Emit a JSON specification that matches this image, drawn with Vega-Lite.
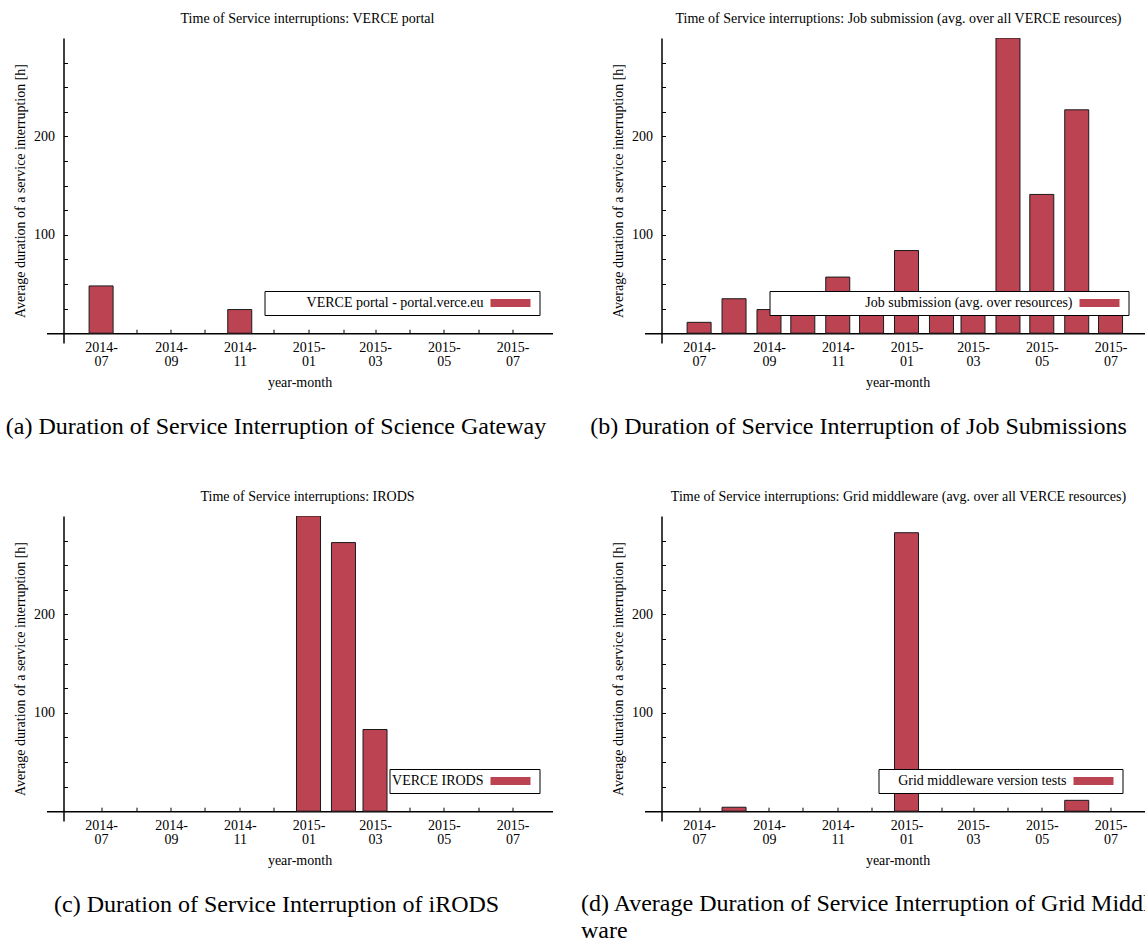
{
  "$schema": "https://vega.github.io/schema/vega-lite/v6.json",
  "padding": {"left": 4.5, "top": 12, "right": 0, "bottom": 0},
  "background": "white",
  "datasets": {
    "portal": [
      {"month": "2014-07-01", "hours": 48},
      {"month": "2014-11-01", "hours": 24}
    ],
    "jobs": [
      {"month": "2014-07-01", "hours": 11},
      {"month": "2014-08-01", "hours": 35},
      {"month": "2014-09-01", "hours": 24},
      {"month": "2014-10-01", "hours": 30},
      {"month": "2014-11-01", "hours": 57},
      {"month": "2014-12-01", "hours": 27},
      {"month": "2015-01-01", "hours": 84},
      {"month": "2015-02-01", "hours": 33},
      {"month": "2015-03-01", "hours": 25},
      {"month": "2015-04-01", "hours": 300},
      {"month": "2015-05-01", "hours": 141},
      {"month": "2015-06-01", "hours": 227},
      {"month": "2015-07-01", "hours": 22}
    ],
    "irods": [
      {"month": "2015-01-01", "hours": 300},
      {"month": "2015-02-01", "hours": 273},
      {"month": "2015-03-01", "hours": 83}
    ],
    "grid": [
      {"month": "2014-08-01", "hours": 4},
      {"month": "2015-01-01", "hours": 283},
      {"month": "2015-06-01", "hours": 11}
    ]
  },
  "config": {
    "view": {"stroke": null},
    "font": "Liberation Serif",
    "title": {"font": "Liberation Serif", "fontSize": 14, "fontWeight": "normal", "color": "black", "offset": 12},
    "axis": {
      "labelFont": "Liberation Serif", "labelFontSize": 14, "labelColor": "black",
      "titleFont": "Liberation Serif", "titleFontSize": 14, "titleFontWeight": "normal", "titleColor": "black",
      "domainColor": "black", "domainWidth": 1.5, "tickColor": "black", "tickWidth": 1, "grid": false
    },
    "legend": {"labelFont": "Liberation Serif", "labelFontSize": 14, "labelColor": "black"}
  },
  "resolve": {"scale": {"x": "independent", "y": "independent", "color": "independent"}, "legend": {"color": "independent"}},
  "columns": 2,
  "spacing": {"row": 52, "column": 28},
  "concat": [
    {
      "title": {"text": "Time of Service interruptions: VERCE portal", "dx": 8},
      "width": 506, "height": 305,
      "data": {"name": "portal"},
      "resolve": {"axis": {"x": "independent"}},
      "layer": [
        {
          "mark": {"type": "bar", "width": 24, "stroke": "#1a1a1a", "strokeWidth": 1, "clip": true},
          "encoding": {
            "x": {"field": "month", "type": "temporal", "title": "year-month",
              "scale": {"type": "utc", "domain": [{"year": 2014, "month": 5, "date": 18, "utc": true}, {"year": 2015, "month": 8, "date": 1, "utc": true}]},
              "axis": {"orient": "bottom", "values": [{"year": 2014, "month": 7, "date": 1, "utc": true}, {"year": 2014, "month": 8, "date": 1, "utc": true}, {"year": 2014, "month": 9, "date": 1, "utc": true}, {"year": 2014, "month": 10, "date": 1, "utc": true}, {"year": 2014, "month": 11, "date": 1, "utc": true}, {"year": 2014, "month": 12, "date": 1, "utc": true}, {"year": 2015, "month": 1, "date": 1, "utc": true}, {"year": 2015, "month": 2, "date": 1, "utc": true}, {"year": 2015, "month": 3, "date": 1, "utc": true}, {"year": 2015, "month": 4, "date": 1, "utc": true}, {"year": 2015, "month": 5, "date": 1, "utc": true}, {"year": 2015, "month": 6, "date": 1, "utc": true}, {"year": 2015, "month": 7, "date": 1, "utc": true}],
                "offset": -9.8, "tickSize": -4, "labelPadding": 11, "labelLineHeight": 14, "labelOverlap": false, "labelFlush": false, "titlePadding": 7,
                "labelExpr": "utcmonth(datum.value) % 2 == 0 ? [utcFormat(datum.value, '%Y-'), utcFormat(datum.value, '%m')] : ''"}},
            "y": {"field": "hours", "type": "quantitative", "title": "Average duration of a service interruption [h]",
              "scale": {"domain": [-10, 300], "nice": false, "zero": false},
              "axis": {"values": [25, 50, 75, 100, 125, 150, 175, 200, 225, 250, 275], "offset": -17, "tickSize": -4, "labelPadding": 13, "titlePadding": 6.5,
                "labelExpr": "datum.value % 100 == 0 ? datum.label : ''"}},
            "y2": {"datum": 0},
            "color": {"datum": "VERCE portal - portal.verce.eu", "type": "nominal", "scale": {"range": ["#bc4452"]},
              "legend": {"orient": "none", "legendX": 218, "legendY": 253, "title": " ", "titleOrient": "left", "titleFontSize": 1, "titlePadding": 234,
                "strokeColor": "black", "fillColor": "white", "padding": 5,
                "symbolType": "M-4,-0.8H4V0.8H-4ZM4.8,0", "symbolSize": 100, "symbolStrokeWidth": 0, "labelAlign": "right", "labelOffset": -34, "labelLimit": 400}}
          }
        },
        {
          "mark": {"type": "rule", "opacity": 0},
          "encoding": {
            "x": {"field": "month", "type": "temporal",
              "axis": {"orient": "bottom", "title": "(a) Duration of Service Interruption of Science Gateway", "domain": false, "ticks": false, "labels": false,
                "titleFontSize": 24, "titleX": 229, "titleY": 90, "titleAlign": "center", "titleBaseline": "alphabetic", "titlePadding": 0}}
          }
        }
      ]
    },
    {
      "title": {"text": "Time of Service interruptions: Job submission (avg. over all VERCE resources)", "dx": 1},
      "width": 506, "height": 305,
      "data": {"name": "jobs"},
      "resolve": {"axis": {"x": "independent"}},
      "layer": [
        {
          "mark": {"type": "bar", "width": 24, "stroke": "#1a1a1a", "strokeWidth": 1, "clip": true},
          "encoding": {
            "x": {"field": "month", "type": "temporal", "title": "year-month",
              "scale": {"type": "utc", "domain": [{"year": 2014, "month": 5, "date": 18, "utc": true}, {"year": 2015, "month": 8, "date": 1, "utc": true}]},
              "axis": {"orient": "bottom", "values": [{"year": 2014, "month": 7, "date": 1, "utc": true}, {"year": 2014, "month": 8, "date": 1, "utc": true}, {"year": 2014, "month": 9, "date": 1, "utc": true}, {"year": 2014, "month": 10, "date": 1, "utc": true}, {"year": 2014, "month": 11, "date": 1, "utc": true}, {"year": 2014, "month": 12, "date": 1, "utc": true}, {"year": 2015, "month": 1, "date": 1, "utc": true}, {"year": 2015, "month": 2, "date": 1, "utc": true}, {"year": 2015, "month": 3, "date": 1, "utc": true}, {"year": 2015, "month": 4, "date": 1, "utc": true}, {"year": 2015, "month": 5, "date": 1, "utc": true}, {"year": 2015, "month": 6, "date": 1, "utc": true}, {"year": 2015, "month": 7, "date": 1, "utc": true}],
                "offset": -9.8, "tickSize": -4, "labelPadding": 11, "labelLineHeight": 14, "labelOverlap": false, "labelFlush": false, "titlePadding": 7,
                "labelExpr": "utcmonth(datum.value) % 2 == 0 ? [utcFormat(datum.value, '%Y-'), utcFormat(datum.value, '%m')] : ''"}},
            "y": {"field": "hours", "type": "quantitative", "title": "Average duration of a service interruption [h]",
              "scale": {"domain": [-10, 300], "nice": false, "zero": false},
              "axis": {"values": [25, 50, 75, 100, 125, 150, 175, 200, 225, 250, 275], "offset": -17, "tickSize": -4, "labelPadding": 13, "titlePadding": 6.5,
                "labelExpr": "datum.value % 100 == 0 ? datum.label : ''"}},
            "y2": {"datum": 0},
            "color": {"datum": "Job submission (avg. over resources)", "type": "nominal", "scale": {"range": ["#bc4452"]},
              "legend": {"orient": "none", "legendX": 125, "legendY": 253, "title": " ", "titleOrient": "left", "titleFontSize": 1, "titlePadding": 318,
                "strokeColor": "black", "fillColor": "white", "padding": 5,
                "symbolType": "M-4,-0.8H4V0.8H-4ZM4.8,0", "symbolSize": 100, "symbolStrokeWidth": 0, "labelAlign": "right", "labelOffset": -34, "labelLimit": 400}}
          }
        },
        {
          "mark": {"type": "rule", "opacity": 0},
          "encoding": {
            "x": {"field": "month", "type": "temporal",
              "axis": {"orient": "bottom", "title": "(b) Duration of Service Interruption of Job Submissions", "domain": false, "ticks": false, "labels": false,
                "titleFontSize": 24, "titleX": 213.5, "titleY": 90, "titleAlign": "center", "titleBaseline": "alphabetic", "titlePadding": 0}}
          }
        }
      ]
    },
    {
      "title": {"text": "Time of Service interruptions: IRODS", "dx": 8},
      "width": 506, "height": 305,
      "data": {"name": "irods"},
      "resolve": {"axis": {"x": "independent"}},
      "layer": [
        {
          "mark": {"type": "bar", "width": 24, "stroke": "#1a1a1a", "strokeWidth": 1, "clip": true},
          "encoding": {
            "x": {"field": "month", "type": "temporal", "title": "year-month",
              "scale": {"type": "utc", "domain": [{"year": 2014, "month": 5, "date": 18, "utc": true}, {"year": 2015, "month": 8, "date": 1, "utc": true}]},
              "axis": {"orient": "bottom", "values": [{"year": 2014, "month": 7, "date": 1, "utc": true}, {"year": 2014, "month": 8, "date": 1, "utc": true}, {"year": 2014, "month": 9, "date": 1, "utc": true}, {"year": 2014, "month": 10, "date": 1, "utc": true}, {"year": 2014, "month": 11, "date": 1, "utc": true}, {"year": 2014, "month": 12, "date": 1, "utc": true}, {"year": 2015, "month": 1, "date": 1, "utc": true}, {"year": 2015, "month": 2, "date": 1, "utc": true}, {"year": 2015, "month": 3, "date": 1, "utc": true}, {"year": 2015, "month": 4, "date": 1, "utc": true}, {"year": 2015, "month": 5, "date": 1, "utc": true}, {"year": 2015, "month": 6, "date": 1, "utc": true}, {"year": 2015, "month": 7, "date": 1, "utc": true}],
                "offset": -9.8, "tickSize": -4, "labelPadding": 11, "labelLineHeight": 14, "labelOverlap": false, "labelFlush": false, "titlePadding": 7,
                "labelExpr": "utcmonth(datum.value) % 2 == 0 ? [utcFormat(datum.value, '%Y-'), utcFormat(datum.value, '%m')] : ''"}},
            "y": {"field": "hours", "type": "quantitative", "title": "Average duration of a service interruption [h]",
              "scale": {"domain": [-10, 300], "nice": false, "zero": false},
              "axis": {"values": [25, 50, 75, 100, 125, 150, 175, 200, 225, 250, 275], "offset": -17, "tickSize": -4, "labelPadding": 13, "titlePadding": 6.5,
                "labelExpr": "datum.value % 100 == 0 ? datum.label : ''"}},
            "y2": {"datum": 0},
            "color": {"datum": "VERCE IRODS", "type": "nominal", "scale": {"range": ["#bc4452"]},
              "legend": {"orient": "none", "legendX": 343, "legendY": 253, "title": " ", "titleOrient": "left", "titleFontSize": 1, "titlePadding": 109,
                "strokeColor": "black", "fillColor": "white", "padding": 5,
                "symbolType": "M-4,-0.8H4V0.8H-4ZM4.8,0", "symbolSize": 100, "symbolStrokeWidth": 0, "labelAlign": "right", "labelOffset": -34, "labelLimit": 400}}
          }
        },
        {
          "mark": {"type": "rule", "opacity": 0},
          "encoding": {
            "x": {"field": "month", "type": "temporal",
              "axis": {"orient": "bottom", "title": "(c) Duration of Service Interruption of iRODS", "domain": false, "ticks": false, "labels": false,
                "titleFontSize": 24, "titleX": 7, "titleY": 90, "titleAlign": "left", "titleBaseline": "alphabetic", "titlePadding": 0}}
          }
        }
      ]
    },
    {
      "title": {"text": "Time of Service interruptions: Grid middleware (avg. over all VERCE resources)", "dx": 1},
      "width": 506, "height": 305,
      "data": {"name": "grid"},
      "resolve": {"axis": {"x": "independent"}},
      "layer": [
        {
          "mark": {"type": "bar", "width": 24, "stroke": "#1a1a1a", "strokeWidth": 1, "clip": true},
          "encoding": {
            "x": {"field": "month", "type": "temporal", "title": "year-month",
              "scale": {"type": "utc", "domain": [{"year": 2014, "month": 5, "date": 18, "utc": true}, {"year": 2015, "month": 8, "date": 1, "utc": true}]},
              "axis": {"orient": "bottom", "values": [{"year": 2014, "month": 7, "date": 1, "utc": true}, {"year": 2014, "month": 8, "date": 1, "utc": true}, {"year": 2014, "month": 9, "date": 1, "utc": true}, {"year": 2014, "month": 10, "date": 1, "utc": true}, {"year": 2014, "month": 11, "date": 1, "utc": true}, {"year": 2014, "month": 12, "date": 1, "utc": true}, {"year": 2015, "month": 1, "date": 1, "utc": true}, {"year": 2015, "month": 2, "date": 1, "utc": true}, {"year": 2015, "month": 3, "date": 1, "utc": true}, {"year": 2015, "month": 4, "date": 1, "utc": true}, {"year": 2015, "month": 5, "date": 1, "utc": true}, {"year": 2015, "month": 6, "date": 1, "utc": true}, {"year": 2015, "month": 7, "date": 1, "utc": true}],
                "offset": -9.8, "tickSize": -4, "labelPadding": 11, "labelLineHeight": 14, "labelOverlap": false, "labelFlush": false, "titlePadding": 7,
                "labelExpr": "utcmonth(datum.value) % 2 == 0 ? [utcFormat(datum.value, '%Y-'), utcFormat(datum.value, '%m')] : ''"}},
            "y": {"field": "hours", "type": "quantitative", "title": "Average duration of a service interruption [h]",
              "scale": {"domain": [-10, 300], "nice": false, "zero": false},
              "axis": {"values": [25, 50, 75, 100, 125, 150, 175, 200, 225, 250, 275], "offset": -17, "tickSize": -4, "labelPadding": 13, "titlePadding": 6.5,
                "labelExpr": "datum.value % 100 == 0 ? datum.label : ''"}},
            "y2": {"datum": 0},
            "color": {"datum": "Grid middleware version tests", "type": "nominal", "scale": {"range": ["#bc4452"]},
              "legend": {"orient": "none", "legendX": 234, "legendY": 253, "title": " ", "titleOrient": "left", "titleFontSize": 1, "titlePadding": 203,
                "strokeColor": "black", "fillColor": "white", "padding": 5,
                "symbolType": "M-4,-0.8H4V0.8H-4ZM4.8,0", "symbolSize": 100, "symbolStrokeWidth": 0, "labelAlign": "right", "labelOffset": -34, "labelLimit": 400}}
          }
        },
        {
          "mark": {"type": "rule", "opacity": 0},
          "encoding": {
            "x": {"field": "month", "type": "temporal",
              "axis": {"orient": "bottom", "title": ["(d) Average Duration of Service Interruption of Grid Middle-", "ware"], "domain": false, "ticks": false, "labels": false,
                "titleFontSize": 24, "titleLineHeight": 27, "titleX": -64, "titleY": 89, "titleAlign": "left", "titleBaseline": "alphabetic", "titlePadding": 0}}
          }
        }
      ]
    }
  ]
}
